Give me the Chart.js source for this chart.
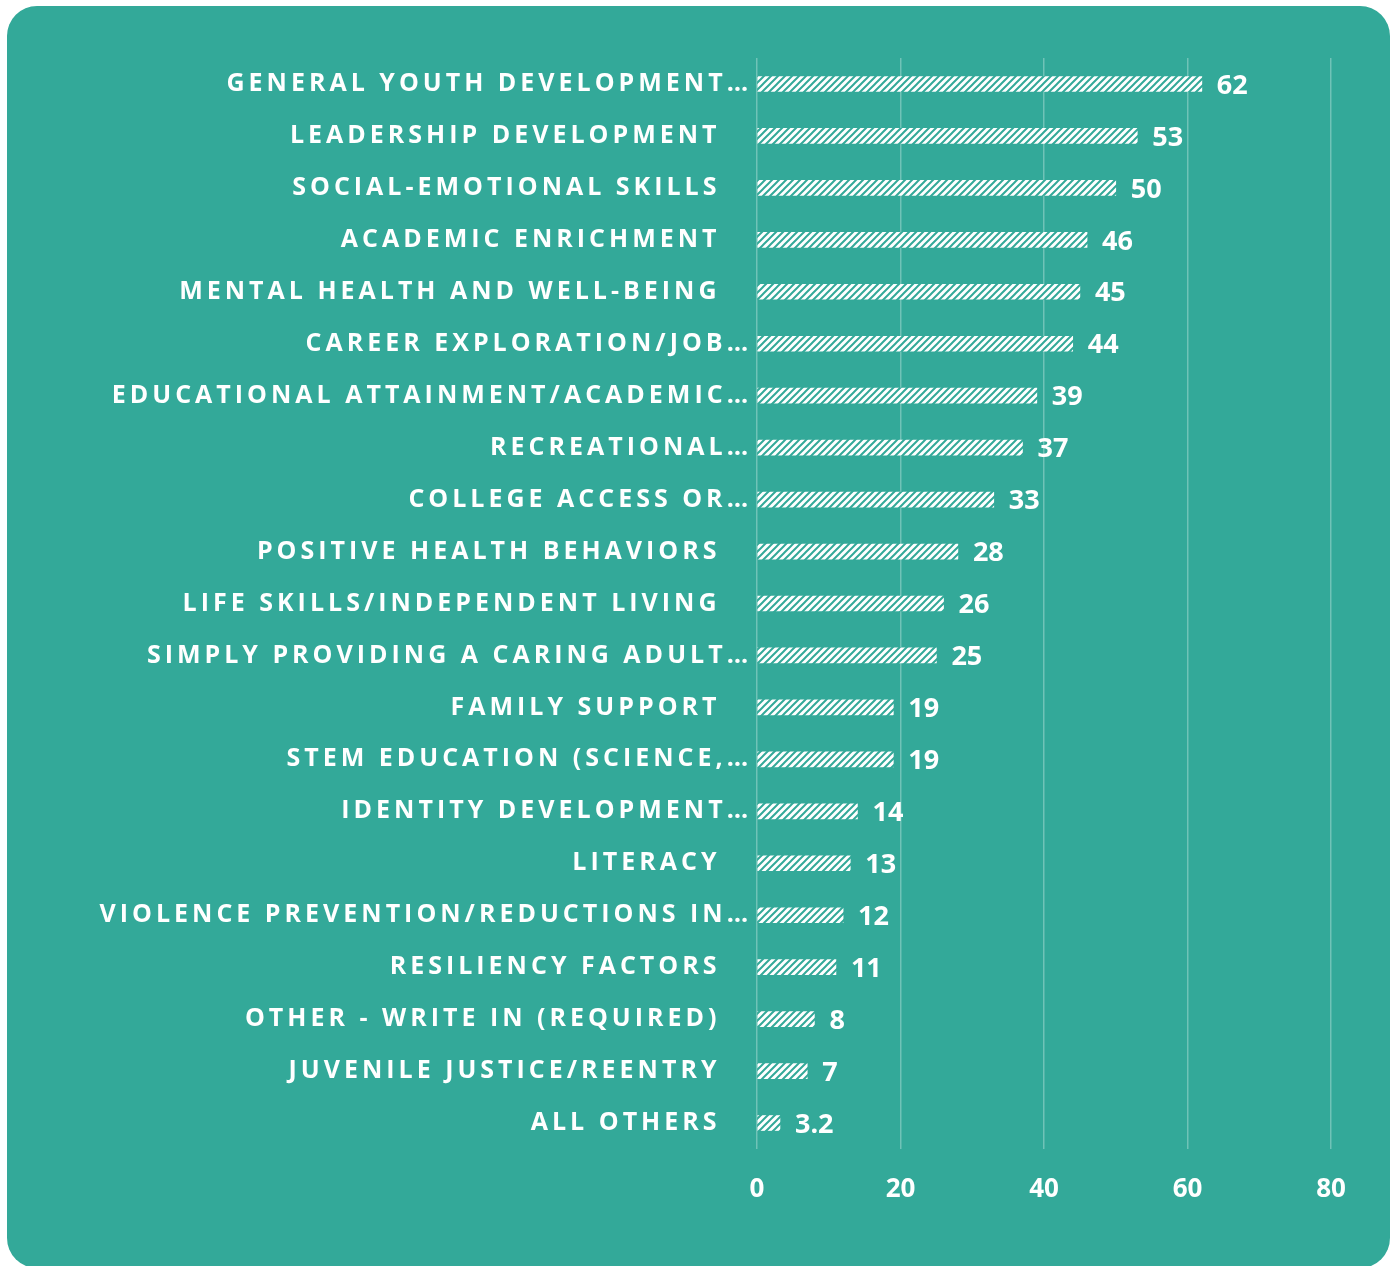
<!DOCTYPE html>
<html>
<head>
<meta charset="utf-8">
<script src="https://cdn.jsdelivr.net/npm/chart.js@4"></script>
<style>
  html, body { margin: 0; padding: 0; background: #ffffff; }
  #wrap { width: 1394px; height: 1266px; position: relative; }
</style>
</head>
<body>
<div id="wrap"><canvas id="myChart" width="1394" height="1266"></canvas></div>
<script>
// Chart data
const categories = [
  'GENERAL YOUTH DEVELOPMENT…',
  'LEADERSHIP DEVELOPMENT',
  'SOCIAL-EMOTIONAL SKILLS',
  'ACADEMIC ENRICHMENT',
  'MENTAL HEALTH AND WELL-BEING',
  'CAREER EXPLORATION/JOB…',
  'EDUCATIONAL ATTAINMENT/ACADEMIC…',
  'RECREATIONAL…',
  'COLLEGE ACCESS OR…',
  'POSITIVE HEALTH BEHAVIORS',
  'LIFE SKILLS/INDEPENDENT LIVING',
  'SIMPLY PROVIDING A CARING ADULT…',
  'FAMILY SUPPORT',
  'STEM EDUCATION (SCIENCE,…',
  'IDENTITY DEVELOPMENT…',
  'LITERACY',
  'VIOLENCE PREVENTION/REDUCTIONS IN…',
  'RESILIENCY FACTORS',
  'OTHER - WRITE IN (REQUIRED)',
  'JUVENILE JUSTICE/REENTRY',
  'ALL OTHERS'
];
const values = [62, 53, 50, 46, 45, 44, 39, 37, 33, 28, 26, 25, 19, 19, 14, 13, 12, 11, 8, 7, 3.2];
const xTicks = [0, 20, 40, 60, 80];

const TEAL = '#33a999';
const FONT = '"Open Sans", Lato, sans-serif';

// white hatch pattern with thin teal upward diagonals
function makeHatch() {
  const c = document.createElement('canvas');
  c.width = 7; c.height = 7;
  const g = c.getContext('2d');
  g.fillStyle = '#ffffff';
  g.fillRect(0, 0, 7, 7);
  g.strokeStyle = TEAL;
  g.lineWidth = 2;
  g.beginPath();
  g.moveTo(0, 7); g.lineTo(7, 0);
  g.moveTo(-1, 1); g.lineTo(1, -1);
  g.moveTo(6, 8); g.lineTo(8, 6);
  g.stroke();
  return g.createPattern(c, 'repeat');
}

const ctx = document.getElementById('myChart').getContext('2d');

const panel = {
  id: 'panel',
  beforeDraw(chart) {
    const c = chart.ctx;
    c.letterSpacing = '0px';
    c.save();
    c.fillStyle = TEAL;
    c.beginPath();
    c.roundRect(7, 6, 1383, 1262, 30);
    c.fill();
    c.restore();
  },
  afterDatasetsDraw(chart) {
    const c = chart.ctx;
    const meta = chart.getDatasetMeta(0);
    c.save();
    c.letterSpacing = '0px';
    c.fillStyle = '#ffffff';
    c.font = 'bold 27px ' + FONT;
    c.textAlign = 'left';
    c.textBaseline = 'middle';
    meta.data.forEach((bar, i) => {
      c.fillText(String(values[i]), bar.x + 15, bar.y + 2);
    });
    c.restore();
    // spaced capitals for the category labels drawn next
    c.letterSpacing = '4px';
  }
};

new Chart(ctx, {
  type: 'bar',
  data: {
    labels: categories,
    datasets: [{
      data: values,
      backgroundColor: makeHatch(),
      borderWidth: 0,
      barThickness: 15
    }]
  },
  options: {
    indexAxis: 'y',
    responsive: false,
    animation: false,
    layout: {
      padding: { left: 0, right: 63, top: 58, bottom: 57 }
    },
    scales: {
      x: {
        min: 0,
        max: 80,
        afterBuildTicks: axis => { axis.ticks = xTicks.map(v => ({ value: v })); },
        afterFit: axis => { axis.height = 60; },
        grid: {
          color: 'rgba(255,255,255,0.3)',
          lineWidth: 1.5,
          drawTicks: false
        },
        border: { display: false },
        ticks: {
          color: '#ffffff',
          font: { family: FONT, size: 26, weight: 'bold' },
          padding: 25
        }
      },
      y: {
        afterFit: axis => { axis.width = 757; },
        grid: { display: false },
        border: { display: false },
        ticks: {
          z: 1,
          autoSkip: false,
          color: '#ffffff',
          font: { family: FONT, size: 25, weight: 'bold' },
          padding: -3,
          callback: function (value) {
            const lab = this.getLabelForValue(value);
            return lab.endsWith('…') ? lab : lab + '   ';
          }
        }
      }
    },
    plugins: {
      legend: { display: false },
      tooltip: { enabled: false }
    }
  },
  plugins: [panel]
});
</script>
</body>
</html>
